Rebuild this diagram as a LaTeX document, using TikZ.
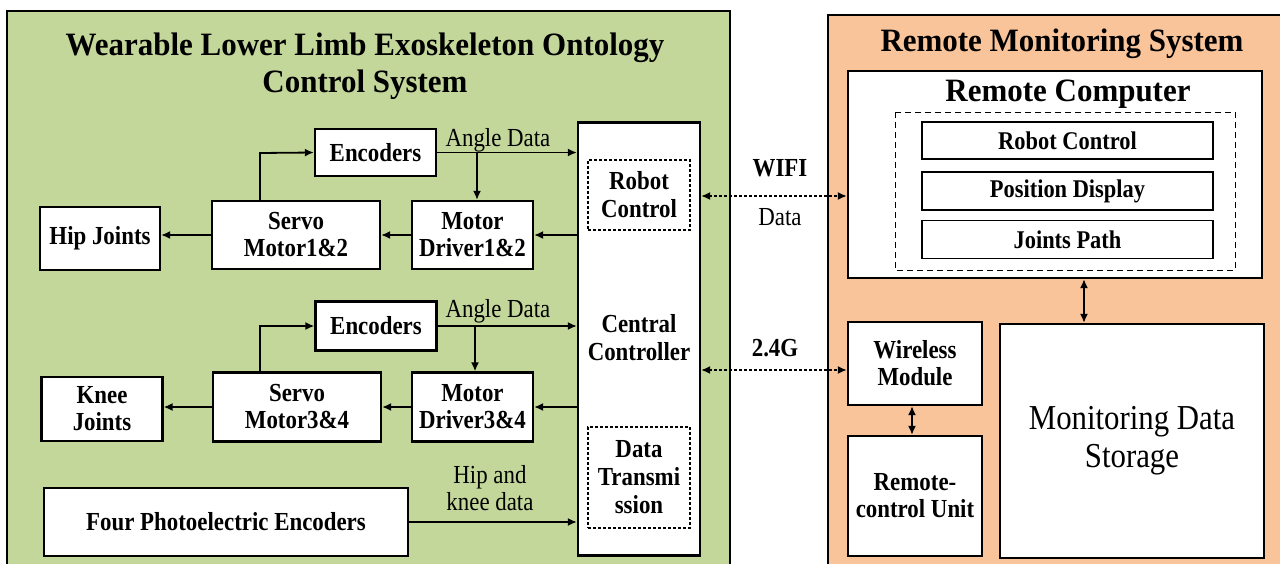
\documentclass[tikz,border=0pt]{standalone}
\usepackage{fontspec}
\setmainfont{Liberation Serif}
\newfontfamily\cond{Liberation Serif}[FakeStretch=0.88]
\newfontfamily\tcond{Liberation Serif}[FakeStretch=0.95]
\usetikzlibrary{arrows.meta}
\definecolor{pgreen}{HTML}{C4D79B}
\definecolor{porange}{HTML}{F9C49A}
\begin{document}
\begin{tikzpicture}[x=1pt,y=-1pt,
  box/.style={draw, line width=2.2pt, fill=white, inner sep=0pt, align=center,
    font=\cond\fontsize{26}{27}\selectfont\bfseries},
  ibox/.style={draw, line width=1.8pt, fill=white, inner sep=0pt, align=center,
    font=\cond\fontsize{25.5}{27}\selectfont\bfseries},
  dbox/.style={draw, line width=2pt, dash pattern=on 3pt off 2pt, inner sep=0pt, align=center,
    font=\cond\fontsize{26}{28}\selectfont\bfseries},
  lbl/.style={inner sep=0pt, align=center, font=\cond\fontsize{26}{27}\selectfont},
  blbl/.style={inner sep=0pt, align=center, font=\cond\fontsize{26}{28}\selectfont\bfseries},
  ttl/.style={inner sep=0pt, align=center, font=\tcond\fontsize{32.6}{37}\selectfont\bfseries},
  arr/.style={line width=1.8pt, -{Latex[length=9pt,width=8pt]}},
  darr/.style={line width=1.8pt, dash pattern=on 3pt off 2pt, {Latex[length=9pt,width=8pt]}-{Latex[length=9pt,width=8pt]}},
  barr/.style={line width=1.8pt, {Latex[length=9pt,width=8pt]}-{Latex[length=9pt,width=8pt]}}
]
\useasboundingbox (0,0) rectangle (1280,563);
\begin{scope}
\clip (0,0) rectangle (1280,563);
\draw[fill=pgreen, line width=1.5pt] (7,11) rectangle (730,600);
\draw[fill=porange, line width=1.5pt] (828,15) rectangle (1300,600);
\end{scope}

% titles
\node[ttl] (gtitle) at (365,66) {Wearable Lower Limb Exoskeleton Ontology\\Control System};
\node[ttl] (otitle) at (1062,43.5) {Remote Monitoring System};

% central controller
\node[box, minimum width=122pt, minimum height=433pt] (cc) at (639,339) {};
\node[dbox, minimum width=102pt, minimum height=70pt] (rcd) at (639,195) {Robot\\Control};
\node[blbl] (cctext) at (639,338) {Central\\Controller};
\node[dbox, minimum width=102pt, minimum height=101pt] (dtd) at (639,477.5) {Data\\Transmi\\ssion};

% upper chain
\node[box, minimum width=121pt, minimum height=47pt] (enc1) at (375.5,152.5) {Encoders};
\node[box, minimum width=168pt, minimum height=68pt] (sm1) at (296,235) {Servo\\Motor1\&2};
\node[box, minimum width=121pt, minimum height=68pt] (md1) at (472.5,235) {Motor\\Driver1\&2};
\node[box, minimum width=120pt, minimum height=63pt] (hip) at (100,238.5) {Hip Joints};

% lower chain
\node[box, minimum width=121pt, minimum height=49pt] (enc2) at (376,326) {Encoders};
\node[box, minimum width=168pt, minimum height=69pt] (sm2) at (297,407) {Servo\\Motor3\&4};
\node[box, minimum width=121pt, minimum height=69pt] (md2) at (472.5,407) {Motor\\Driver3\&4};
\node[box, minimum width=121pt, minimum height=64pt] (knee) at (102,409) {Knee\\Joints};

\node[box, minimum width=364pt, minimum height=68pt] (pe) at (226,522) {Four Photoelectric Encoders};

% labels
\node[lbl] (ad1) at (498,140) {Angle Data};
\node[lbl] (ad2) at (498,311) {Angle Data};
\node[lbl] (hk) at (490,488) {Hip and\\knee data};

% upper connectors
\coordinate (b1) at (477,153);
\coordinate (r1) at (260,153);
\coordinate (r2) at (260,326);
\coordinate (b2) at (475,326);
\draw[arr] (enc1.east) -- (enc1.east -| cc.west);
\draw[arr] (b1) -- (b1 |- md1.north);
\draw[arr] (r1 |- sm1.north) -- (r1) -- (enc1.west);
\draw[arr] (cc.west |- md1.east) -- (md1.east);
\draw[arr] (md1.west) -- (sm1.east);
\draw[arr] (sm1.west) -- (sm1.west -| hip.east);

% lower connectors
\draw[arr] (enc2.east) -- (enc2.east -| cc.west);
\draw[arr] (b2) -- (b2 |- md2.north);
\draw[arr] (r2 |- sm2.north) -- (r2) -- (enc2.west);
\draw[arr] (cc.west |- md2.east) -- (md2.east);
\draw[arr] (md2.west) -- (sm2.east);
\draw[arr] (sm2.west) -- (sm2.west -| knee.east);
\draw[arr] (pe.east) -- (pe.east -| cc.west);

% remote side
\node[box, minimum width=414pt, minimum height=207pt] (rcomp) at (1055,174.5) {};
\node[ttl] (rctitle) at (1068,94.5) {Remote Computer};
\draw[line width=1pt, dash pattern=on 6pt off 4pt] (895,112) rectangle (1235,270);
\node[ibox, minimum width=291pt, minimum height=37pt] (irc) at (1067.5,140.5) {Robot Control};
\node[ibox, minimum width=291pt, minimum height=38pt] (ipd) at (1067.5,191) {Position Display};
\node[ibox, minimum width=291pt, minimum height=38pt] (ijp) at (1067.5,239.5) {Joints Path};

\node[box, minimum width=134pt, minimum height=83pt] (wm) at (915,363.5) {Wireless\\Module};
\node[box, minimum width=134pt, minimum height=120pt] (rcu) at (915,496) {Remote-\\control Unit};
\node[box, minimum width=264pt, minimum height=234pt, font=\cond\fontsize{35}{38}\selectfont] (mds) at (1132,441) {Monitoring Data\\Storage};

\coordinate (sx) at (1084,0);
\coordinate (wx) at (912,0);
\draw[barr] (sx |- rcomp.south) -- (sx |- mds.north);
\draw[barr] (wx |- wm.south) -- (wx |- rcu.north);

% wireless links
\coordinate (wy) at (0,196);
\coordinate (gy) at (0,370);
\draw[darr] (cc.east |- wy) -- (rcomp.west |- wy);
\draw[darr] (cc.east |- gy) -- (wm.west |- gy);
\node[blbl] (wifi) at (780,168) {WIFI};
\node[lbl] (data) at (780,217) {Data};
\node[blbl] (g24) at (775,348) {2.4G};
\end{tikzpicture}
\end{document}
